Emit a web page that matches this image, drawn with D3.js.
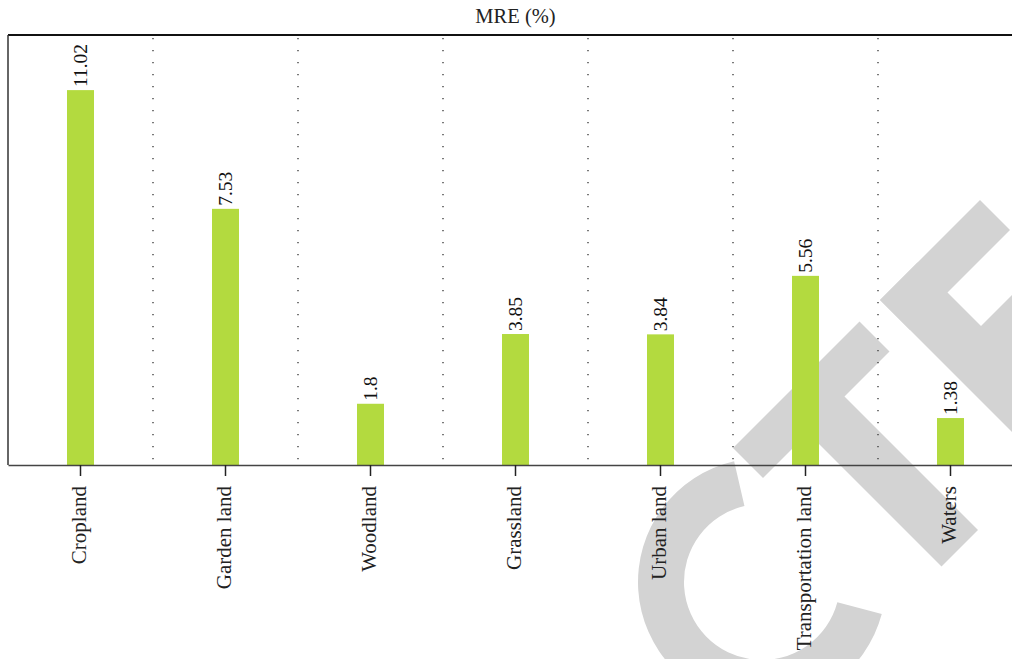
<!DOCTYPE html>
<html>
<head>
<meta charset="utf-8">
<script src="https://cdn.jsdelivr.net/npm/d3@7"></script>
<style>
  html, body { margin: 0; padding: 0; background: #ffffff; }
  svg { display: block; }
  .serif { font-family: "Liberation Serif", "DejaVu Serif", serif; }
</style>
</head>
<body>
<svg id="chart" width="1012" height="659"></svg>
<script>
// ---- data ----
const categories = ["Cropland", "Garden land", "Woodland", "Grassland", "Urban land", "Transportation land", "Waters"];
const mreValues = [11.02, 7.53, 1.8, 3.85, 3.84, 5.56, 1.38];
const valueLabels = ["11.02", "7.53", "1.8", "3.85", "3.84", "5.56", "1.38"];
const chartTitle = "MRE (%)";
const yMax = 12.64;

// ---- layout ----
const W = 1012, H = 659;
const plotLeft = 8, plotRight = 1023, plotTop = 35, plotBottom = 465;
const barWidth = 27;
const barColor = "#b3da3f";

const svg = d3.select("#chart");

const x = d3.scaleBand().domain(categories).range([plotLeft, plotRight]).padding(0);
const y = d3.scaleLinear().domain([0, yMax]).range([plotBottom, plotTop]);

// ---- background watermark (decoration) ----
// rectangles in rotated coordinates: s = x + y, d = x - y
const wmRects = [
  [1181, 1241, 285, 538],  // T bar
  [1240, 1508, 375, 448],  // T stem
  [1180, 1240, 580, 780],  // E top arm
  [1180, 1600, 580, 655],  // E spine
  [1307, 1370, 654, 900]   // E middle arm
];
const wm = svg.append("g").attr("fill", "#d3d3d3");
wm.selectAll("path.wm").data(wmRects).join("path")
  .attr("d", r => {
    const [s0, s1, d0, d1] = r;
    const pt = (s, d) => [(s + d) / 2, (s - d) / 2];
    return d3.line()([pt(s0, d0), pt(s1, d0), pt(s1, d1), pt(s0, d1)]) + "Z";
  });
wm.append("path")
  .attr("transform", "translate(762,582)")
  .attr("d", d3.arc()({
    innerRadius: 78, outerRadius: 124,
    startAngle: 105 * Math.PI / 180, endAngle: 347 * Math.PI / 180
  }));

// ---- dotted separators ----
svg.append("g").selectAll("line.sep")
  .data(categories.slice(0, -1)).join("line")
  .attr("x1", d => x(d) + x.step())
  .attr("x2", d => x(d) + x.step())
  .attr("y1", plotTop + 3)
  .attr("y2", plotBottom - 3)
  .attr("stroke", "#333")
  .attr("stroke-width", 1.3)
  .attr("stroke-dasharray", "1.3,10.7");

// ---- bars ----
svg.append("g").selectAll("rect.bar")
  .data(categories).join("rect")
  .attr("x", (d) => x(d) + x.bandwidth() / 2 - barWidth / 2)
  .attr("width", barWidth)
  .attr("y", (d, i) => y(mreValues[i]))
  .attr("height", (d, i) => y(0) - y(mreValues[i]))
  .attr("fill", barColor);

// ---- value labels ----
svg.append("g").selectAll("text.val")
  .data(categories).join("text")
  .attr("class", "serif")
  .attr("transform", (d, i) => `translate(${x(d) + x.bandwidth() / 2 + 6},${y(mreValues[i]) - 3}) rotate(-90)`)
  .attr("text-anchor", "start")
  .style("font-size", "19.5px")
  .attr("fill", "#111")
  .text((d, i) => valueLabels[i]);

// ---- frame ----
svg.append("line")
  .attr("x1", plotLeft).attr("x2", plotRight)
  .attr("y1", plotTop).attr("y2", plotTop)
  .attr("stroke", "#111").attr("stroke-width", 2);
svg.append("line")
  .attr("x1", plotLeft).attr("x2", plotLeft)
  .attr("y1", plotTop).attr("y2", plotBottom)
  .attr("stroke", "#333").attr("stroke-width", 1.5);

// ---- x axis ----
const xAxis = d3.axisBottom(x).tickSize(11).tickSizeOuter(0).tickPadding(0);
const gx = svg.append("g")
  .attr("transform", `translate(0,${plotBottom})`)
  .call(xAxis)
  .attr("font-family", null)
  .attr("font-size", null);
gx.select(".domain").attr("stroke", "#444").attr("stroke-width", 1.5);
gx.selectAll(".tick line").attr("stroke", "#222").attr("stroke-width", 1.5);
gx.selectAll(".tick text")
  .attr("class", "serif")
  .style("font-size", "21px")
  .attr("fill", "#222")
  .attr("text-anchor", "end")
  .attr("dy", null)
  .attr("y", null)
  .attr("transform", "translate(5,21) rotate(-90)");

// ---- title ----
svg.append("text")
  .attr("class", "serif")
  .attr("x", (plotLeft + plotRight) / 2)
  .attr("y", 23)
  .attr("text-anchor", "middle")
  .style("font-size", "20.5px")
  .attr("fill", "#222")
  .text(chartTitle);
</script>
</body>
</html>
